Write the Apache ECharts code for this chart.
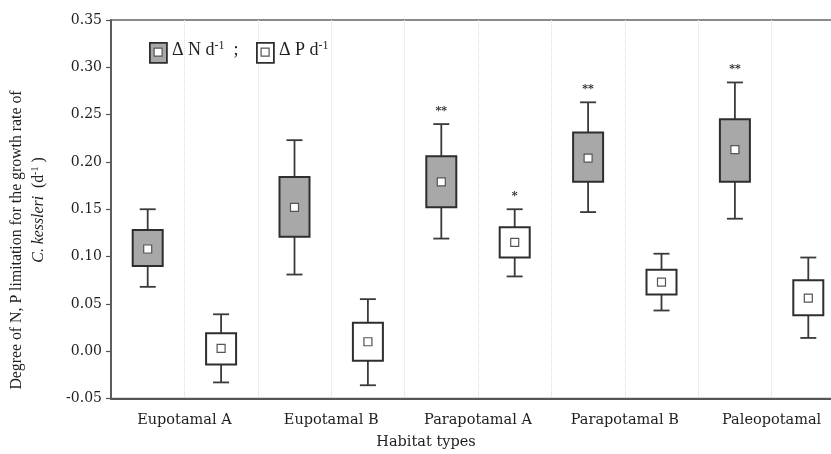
<!DOCTYPE html>
<html>
<head>
<meta charset="utf-8">
<script src="https://cdn.jsdelivr.net/npm/echarts@6/dist/echarts.min.js"></script>
<style>html,body{margin:0;padding:0;background:#fff;}#c{width:831px;height:454px;}</style>
</head>
<body>
<div id="c"></div>
<script>
const categories = ['Eupotamal A', 'Eupotamal B', 'Parapotamal A', 'Parapotamal B', 'Paleopotamal'];
const yTicks = [-0.05, 0.35, 0.05];
// Delta N per day
const nMin  = [0.068, 0.081, 0.119, 0.147, 0.140];
const nQ1   = [0.090, 0.121, 0.152, 0.179, 0.179];
const nMean = [0.108, 0.152, 0.179, 0.204, 0.213];
const nQ3   = [0.128, 0.184, 0.206, 0.231, 0.245];
const nMax  = [0.150, 0.223, 0.240, 0.263, 0.284];
const nSig  = ['', '', '**', '**', '**'];
// Delta P per day
const pMin  = [-0.033, -0.036, 0.079, 0.043, 0.014];
const pQ1   = [-0.014, -0.010, 0.099, 0.060, 0.038];
const pMean = [0.003, 0.010, 0.115, 0.073, 0.056];
const pQ3   = [0.019, 0.030, 0.131, 0.086, 0.075];
const pMax  = [0.039, 0.055, 0.150, 0.103, 0.099];
const pSig  = ['', '', '*', '', ''];

const slots = [];
categories.forEach(c => { slots.push(c + ' N'); slots.push(c + ' P'); });
const nData = categories.map((c, i) => [2 * i, nMin[i], nQ1[i], nMean[i], nQ3[i], nMax[i]]);
const pData = categories.map((c, i) => [2 * i + 1, pMin[i], pQ1[i], pMean[i], pQ3[i], pMax[i]]);

const SERIF = '"DejaVu Serif", serif';
const TIMES = '"Liberation Serif", "Times New Roman", serif';

function makeRender(fill, sigs) {
  return function (params, api) {
    const x = api.value(0);
    const lo = api.coord([x, api.value(1)]);
    const q1 = api.coord([x, api.value(2)]);
    const mn = api.coord([x, api.value(3)]);
    const q3 = api.coord([x, api.value(4)]);
    const hi = api.coord([x, api.value(5)]);
    const cx = lo[0];
    const bw = 30, cw = 16, ms = 8;
    const lineStyle = { stroke: '#3a3a3a', lineWidth: 1.8 };
    const children = [
      { type: 'line', shape: { x1: cx, y1: hi[1], x2: cx, y2: q3[1] }, style: lineStyle },
      { type: 'line', shape: { x1: cx, y1: q1[1], x2: cx, y2: lo[1] }, style: lineStyle },
      { type: 'line', shape: { x1: cx - cw / 2, y1: hi[1], x2: cx + cw / 2, y2: hi[1] }, style: lineStyle },
      { type: 'line', shape: { x1: cx - cw / 2, y1: lo[1], x2: cx + cw / 2, y2: lo[1] }, style: lineStyle },
      { type: 'rect', shape: { x: cx - bw / 2, y: q3[1], width: bw, height: q1[1] - q3[1] },
        style: { fill: fill, stroke: '#2e2e2e', lineWidth: 2 } },
      { type: 'rect', shape: { x: cx - ms / 2, y: mn[1] - ms / 2, width: ms, height: ms },
        style: { fill: '#fff', stroke: '#555', lineWidth: 1.2 } }
    ];
    const s = sigs[params.dataIndex];
    if (s) {
      children.push({ type: 'text', style: { text: s, x: cx, y: hi[1] - 13, align: 'center', verticalAlign: 'middle',
        font: 'bold 11px ' + SERIF, fill: '#222' } });
    }
    return { type: 'group', children: children };
  };
}

const chart = echarts.init(document.getElementById('c'), null, { renderer: 'canvas' });
chart.setOption({
  animation: false,
  backgroundColor: '#fff',
  grid: { left: 111, top: 20, width: 734, height: 378.5, outerBoundsMode: 'none', containLabel: false,
          show: true, borderColor: '#666', borderWidth: 1.5, backgroundColor: 'transparent' },
  xAxis: [
    {
      type: 'category', data: slots, boundaryGap: true, position: 'bottom',
      axisLine: { show: true, onZero: false, lineStyle: { color: '#555', width: 1.8 } },
      axisTick: { show: false }, axisLabel: { show: false },
      splitLine: { show: true, interval: 0, lineStyle: { color: '#dcdcdc', type: 'dotted', width: 1 } }
    },
    {
      type: 'category', data: categories, boundaryGap: true, position: 'bottom',
      axisLine: { show: false, onZero: false }, axisTick: { show: false }, splitLine: { show: false },
      axisLabel: { fontFamily: SERIF, fontSize: 14.5, color: '#1e1e1e', margin: 14, interval: 0 }
    }
  ],
  yAxis: {
    type: 'value', min: yTicks[0], max: yTicks[1], interval: yTicks[2],
    axisLine: { show: true, onZero: false, lineStyle: { color: '#555', width: 1.8 } },
    axisTick: { show: true, inside: false, length: 5, lineStyle: { color: '#555', width: 1.2 } },
    axisLabel: { fontFamily: SERIF, fontSize: 14, color: '#1e1e1e', margin: 9, formatter: v => v.toFixed(2) },
    splitLine: { show: false }
  },
  series: [
    { type: 'custom', name: 'N', xAxisIndex: 0, renderItem: makeRender('#a8a8a8', nSig), data: nData, encode: { x: 0, y: [1, 2, 3, 4, 5] }, z: 5 },
    { type: 'custom', name: 'P', xAxisIndex: 0, renderItem: makeRender('#ffffff', pSig), data: pData, encode: { x: 0, y: [1, 2, 3, 4, 5] }, z: 5 }
  ],
  graphic: [
    // legend
    { type: 'rect', left: 149, top: 42, shape: { width: 17, height: 20 }, style: { fill: '#a8a8a8', stroke: '#2e2e2e', lineWidth: 1.8 }, z: 10 },
    { type: 'rect', left: 153.5, top: 47.5, shape: { width: 8, height: 8 }, style: { fill: '#fff', stroke: '#555', lineWidth: 1.2 }, z: 11 },
    { type: 'text', left: 172, top: 40, z: 10, style: {
        text: '{a|Δ N d}{s|-1}{a|  ;}',
        rich: { a: { fontFamily: TIMES, fontSize: 18, fill: '#1e1e1e' , color: '#1e1e1e'},
                s: { fontFamily: TIMES, fontSize: 12, fill: '#1e1e1e', color: '#1e1e1e', padding: [0, 0, 9, 0] } } } },
    { type: 'rect', left: 256, top: 42, shape: { width: 17, height: 20 }, style: { fill: '#fff', stroke: '#2e2e2e', lineWidth: 1.8 }, z: 10 },
    { type: 'rect', left: 260.5, top: 47.5, shape: { width: 8, height: 8 }, style: { fill: '#fff', stroke: '#555', lineWidth: 1.2 }, z: 11 },
    { type: 'text', left: 279, top: 40, z: 10, style: {
        text: '{a|Δ P d}{s|-1}',
        rich: { a: { fontFamily: TIMES, fontSize: 18, fill: '#1e1e1e', color: '#1e1e1e' },
                s: { fontFamily: TIMES, fontSize: 12, fill: '#1e1e1e', color: '#1e1e1e', padding: [0, 0, 9, 0] } } } },
    // y axis title
    { type: 'text', x: 17, y: 240, rotation: Math.PI / 2, z: 10, style: {
        text: 'Degree of N, P limitation for the growth rate of', font: '15.8px ' + TIMES, fill: '#1e1e1e',
        align: 'center', verticalAlign: 'middle' } },
    { type: 'text', x: 39, y: 210, rotation: Math.PI / 2, z: 10, style: {
        text: '{i|C. kessleri}{n|  (d}{s|-1}{n| )}', align: 'center', verticalAlign: 'middle',
        rich: { i: { fontFamily: TIMES, fontStyle: 'italic', fontSize: 15.8, fill: '#1e1e1e', color: '#1e1e1e' },
                n: { fontFamily: TIMES, fontSize: 15.8, fill: '#1e1e1e', color: '#1e1e1e' },
                s: { fontFamily: TIMES, fontSize: 10, fill: '#1e1e1e', color: '#1e1e1e', padding: [0, 0, 8, 0] } } } },
    // x axis title
    { type: 'text', x: 426, y: 442, z: 10, style: {
        text: 'Habitat types', font: '14.5px ' + SERIF, fill: '#1e1e1e', align: 'center', verticalAlign: 'middle' } }
  ]
});
</script>
</body>
</html>
